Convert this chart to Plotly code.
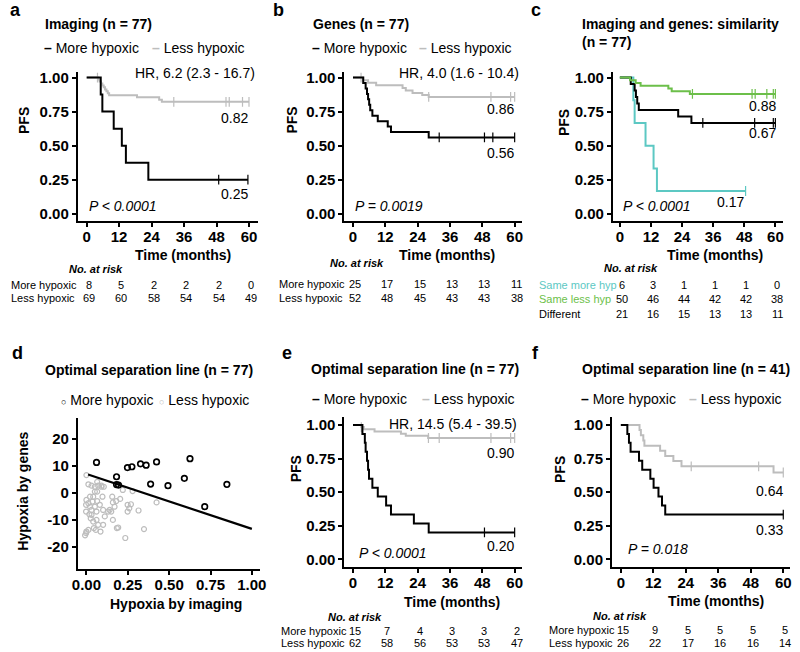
import numpy as np
import plotly.graph_objects as go

FONT = "Liberation Sans"
W, H = 800, 652
BLACK = "#000000"
GREY = "#bdbdbd"
TEAL = "#5cc8c3"
GREEN = "#6cbf4a"

TIME_TICKS = [0, 12, 24, 36, 48, 60]
PFS_TICKS = [0, 0.25, 0.5, 0.75, 1.0]
IMG_TICKS = [0, 0.25, 0.5, 0.75, 1.0]
GENE_TICKS = [-20, -10, 0, 10, 20]

# ---------------- Panel a: imaging ----------------
a_more_t = [0, 5.2, 5.8, 10.0, 13.0, 14.5, 22.8]
a_more_s = [1.0, 0.875, 0.75, 0.625, 0.5, 0.375, 0.25]
a_more_end = 59.6
a_more_cens = [48.8, 59.6]
a_less_t = [0, 4.3, 4.8, 5.3, 5.8, 6.3, 6.8, 7.3, 7.8, 8.3, 18.6, 26.8, 27.8]
a_less_s = [1, .986, .971, .957, .942, .928, .913, .899, .884, .870, .855, .838, .822]
a_less_end = 60
a_less_cens = [4.0, 32.2, 51.5, 52.7, 57.6, 60]
a_risk_more = [8, 5, 2, 2, 2, 0]
a_risk_less = [69, 60, 58, 54, 54, 49]

# ---------------- Panel b: genes ----------------
b_more_t = [0, 3.8, 4.7, 5.2, 5.6, 6.0, 6.4, 7.2, 9.2, 12.9, 14.1, 28.1]
b_more_s = [1, .96, .92, .88, .84, .80, .76, .72, .68, .64, .60, .56]
b_more_end = 60
b_more_cens = [32.0, 48.8, 51.9, 60]
b_less_t = [0, 3.8, 5.6, 8.6, 18.4, 19.6, 22.1, 25.7, 28.1]
b_less_s = [1, .981, .962, .943, .924, .905, .886, .872, .858]
b_less_end = 60
b_less_cens = [3.0, 28.1, 51.2, 58.5, 60]
b_risk_more = [25, 17, 15, 13, 13, 11]
b_risk_less = [52, 48, 45, 43, 43, 38]

# ---------------- Panel c: similarity ----------------
c_smore_t = [0, 5.2, 5.7, 9.9, 13.0, 14.3]
c_smore_s = [1, .833, .667, .5, .333, .167]
c_smore_end = 48.5
c_smore_cens = [48.5]
c_sless_t = [0, 3.9, 6.1, 8.0, 18.7, 20.0, 27.0]
c_sless_s = [1, .98, .96, .94, .92, .90, .88]
c_sless_end = 60
c_sless_cens = [28.0, 51.0, 52.2, 56.7, 59.2, 60]
c_diff_t = [0, 4.2, 5.7, 6.2, 6.7, 7.3, 22.5, 27.6]
c_diff_s = [1, .952, .905, .857, .810, .762, .714, .667]
c_diff_end = 60
c_diff_cens = [32.0, 52.0, 59.2, 60]
c_risk_smore = [6, 3, 1, 1, 1, 0]
c_risk_sless = [50, 46, 44, 42, 42, 38]
c_risk_diff = [21, 16, 15, 13, 13, 11]

# ---------------- Panel d: scatter ----------------
d_more_img = [0.061, 0.182, 0.194, 0.182, 0.248, 0.275, 0.327, 0.361, 0.424,
              0.388, 0.493, 0.626, 0.592, 0.849, 0.715]
d_more_gen = [11.4, 6.1, 3.0, 3.2, 9.5, 9.8, 10.9, 10.4, 11.6,
              3.4, 2.8, 12.8, 5.5, 3.3, -5.0]
d_less_img = [0.000, 0.012, 0.031, 0.051, 0.065, 0.071, 0.105, 0.091, 0.022, 0.041,
              0.051, 0.065, 0.000, 0.012, 0.022, -0.002, 0.031, 0.018, 0.026, 0.041,
              0.061, 0.071, 0.045, 0.057, 0.085, 0.101, 0.111, 0.101, 0.140, 0.131,
              0.150, 0.156, 0.160, 0.170, 0.180, 0.204, 0.220, 0.279, 0.249, 0.269,
              0.259, 0.249, 0.160, 0.184, 0.192, -0.002, 0.000, 0.012, -0.008, 0.235,
              0.315, 0.348, 0.424, 0.097, 0.061, 0.081, 0.037, 0.051, -0.002, 0.065,
              0.091, 0.031]
d_less_gen = [6.7, 3.3, 2.8, 2.4, 4.2, 2.8, 2.4, 2.4, -1.3, -1.3,
              0.6, -2.9, -2.5, -3.7, -5.0, -4.3, -6.2, -7.8, -9.3, -10.5,
              -9.9, -11.7, -12.9, -13.6, -14.2, -11.7, -8.6, -6.2, -6.2, -6.8,
              -6.8, -1.3, -3.4, -5.0, -2.9, -2.1, 1.2, 0.8, -4.3, -4.1,
              -5.6, -6.8, -9.9, -12.9, -12.7, -14.8, -14.2, -13.6, -15.6, -16.6,
              -6.4, -13.3, -3.4, -1.3, -6.8, -4.3, -3.1, -5.0, -6.8, 0.6,
              2.8, -8.0]
d_line_img = [0.01, 1.0]
d_line_gen = [6.9, -13.2]

# ---------------- Panel e: separation line, n=77 ----------------
e_more_t = [0, 3.5, 4.4, 4.7, 5.2, 5.6, 5.95, 7.2, 9.2, 12.3, 14.1, 22.6, 28.1]
e_more_s = [1, .933, .867, .8, .733, .667, .6, .533, .467, .4, .333, .267, .2]
e_more_end = 60
e_more_cens = [48.8, 60]
e_less_t = [0, 3.1, 4.0, 8.0, 17.8, 19.6, 27.9]
e_less_s = [1, .984, .968, .952, .935, .919, .903]
e_less_end = 60
e_less_cens = [3.1, 28.0, 32.0, 51.2, 58.5, 60]
e_risk_more = [15, 7, 4, 3, 3, 2]
e_risk_less = [62, 58, 56, 53, 53, 47]

# ---------------- Panel f: separation line, n=41 ----------------
f_more_t = [0, 2.4, 3.0, 3.6, 6.7, 7.9, 10.9, 12.1, 13.9, 15.2, 16.4]
f_more_s = [1, .933, .867, .8, .733, .667, .6, .533, .467, .4, .333]
f_more_end = 60
f_more_cens = [60]
f_less_t = [0, 6.9, 7.4, 8.3, 8.7, 14.5, 16.4, 19.4, 22.4, 56.4]
f_less_s = [1, .962, .923, .885, .846, .808, .769, .731, .692, .646]
f_less_end = 60
f_less_cens = [26.0, 50.9, 60]
f_risk_more = [15, 9, 5, 5, 5, 5]
f_risk_less = [26, 22, 17, 16, 16, 14]

fig = go.Figure()


def axn(i):
    return ("x", "y") if i == 1 else (f"x{i}", f"y{i}")


def km(i, times, surv, end, color, cens, width=2):
    xa, ya = axn(i)
    fig.add_trace(go.Scatter(x=list(times) + [end], y=list(surv) + [surv[-1]],
                             mode="lines", line=dict(color=color, width=width, shape="hv"),
                             xaxis=xa, yaxis=ya, hoverinfo="skip", showlegend=False))
    t = np.asarray(times)
    s = np.asarray(surv)
    idx = np.searchsorted(t, np.asarray(cens), side="right") - 1
    fig.add_trace(go.Scatter(x=cens, y=s[idx], mode="markers",
                             marker=dict(symbol="line-ns-open", size=7, color=color,
                                         line=dict(color=color, width=1.2)),
                             xaxis=xa, yaxis=ya, hoverinfo="skip", showlegend=False))


km(1, a_less_t, a_less_s, a_less_end, GREY, a_less_cens)
km(1, a_more_t, a_more_s, a_more_end, BLACK, a_more_cens)
km(2, b_less_t, b_less_s, b_less_end, GREY, b_less_cens)
km(2, b_more_t, b_more_s, b_more_end, BLACK, b_more_cens)
km(3, c_smore_t, c_smore_s, c_smore_end, TEAL, c_smore_cens)
km(3, c_diff_t, c_diff_s, c_diff_end, BLACK, c_diff_cens)
km(3, c_sless_t, c_sless_s, c_sless_end, GREEN, c_sless_cens)
km(5, e_less_t, e_less_s, e_less_end, GREY, e_less_cens)
km(5, e_more_t, e_more_s, e_more_end, BLACK, e_more_cens)
km(6, f_less_t, f_less_s, f_less_end, GREY, f_less_cens)
km(6, f_more_t, f_more_s, f_more_end, BLACK, f_more_cens)

# scatter panel d
fig.add_trace(go.Scatter(x=d_less_img, y=d_less_gen, mode="markers",
                         marker=dict(symbol="circle-open", size=5, color=GREY,
                                     line=dict(color=GREY, width=1.2)),
                         xaxis="x4", yaxis="y4", hoverinfo="skip", showlegend=False))
fig.add_trace(go.Scatter(x=d_more_img, y=d_more_gen, mode="markers",
                         marker=dict(symbol="circle-open", size=5.5, color=BLACK,
                                     line=dict(color=BLACK, width=1.7)),
                         xaxis="x4", yaxis="y4", hoverinfo="skip", showlegend=False))
fig.add_trace(go.Scatter(x=d_line_img, y=d_line_gen, mode="lines",
                         line=dict(color=BLACK, width=2.2),
                         xaxis="x4", yaxis="y4", hoverinfo="skip", showlegend=False))

# ---------------- axes layout ----------------
panels = {
    1: dict(xpx=(73, 256), ypx=(69, 219), xr=(-3.27, 63.27), yr=(-0.051, 1.044)),
    2: dict(xpx=(344, 525), ypx=(69, 219), xr=(-3.18, 62.9), yr=(-0.051, 1.044)),
    3: dict(xpx=(617, 790), ypx=(69, 219), xr=(-2.66, 63.0), yr=(-0.051, 1.044)),
    4: dict(xpx=(73, 258), ypx=(418, 569), xr=(-0.052, 1.048), yr=(-27.9, 27.7)),
    5: dict(xpx=(344, 525), ypx=(417, 567), xr=(-3.18, 62.9), yr=(-0.054, 1.056)),
    6: dict(xpx=(616, 797), ypx=(417, 567), xr=(-3.27, 62.5), yr=(-0.054, 1.056)),
}

tickfont = dict(family=FONT, size=15, color=BLACK, weight="bold")
common = dict(showline=True, linewidth=2, linecolor=BLACK, ticks="outside", ticklen=4,
              tickwidth=1.5, tickcolor=BLACK, showgrid=False, zeroline=False,
              tickfont=tickfont, fixedrange=True)

lay = {}
for i, p in panels.items():
    sfx = "" if i == 1 else str(i)
    if i == 4:
        xt, xtt = IMG_TICKS, [f"{v:.2f}" for v in IMG_TICKS]
        yt, ytt = GENE_TICKS, [str(v) for v in GENE_TICKS]
    else:
        xt, xtt = TIME_TICKS, [str(v) for v in TIME_TICKS]
        yt, ytt = PFS_TICKS, [f"{v:.2f}" for v in PFS_TICKS]
    lay["xaxis" + sfx] = dict(domain=[p["xpx"][0] / W, p["xpx"][1] / W], range=list(p["xr"]),
                              anchor="y" + sfx, tickvals=xt, ticktext=xtt,
                              ticklabelstandoff=-3, **common)
    lay["yaxis" + sfx] = dict(domain=[1 - p["ypx"][1] / H, 1 - p["ypx"][0] / H], range=list(p["yr"]),
                              anchor="x" + sfx, tickvals=yt, ticktext=ytt, **common)

anns = []


def A(text, x, y, xanchor="left", yanchor="middle", size=14, color=BLACK, xref="paper",
      yref="paper", angle=0):
    if xref == "paper":
        x = x / W
    if yref == "paper":
        y = 1 - y / H
    anns.append(dict(text=text, x=x, y=y, xref=xref, yref=yref, xanchor=xanchor,
                     yanchor=yanchor, showarrow=False, textangle=angle,
                     font=dict(family=FONT, size=size, color=color)))


# panel letters
A("<b>a</b>", 2, 7.5, size=18)
A("<b>b</b>", 269, 7.5, size=18)
A("<b>c</b>", 532, 7.5, size=18)
A("<b>d</b>", 4, 352.5, size=18)
A("<b>e</b>", 279, 352.5, size=18)
A("<b>f</b>", 533, 352.5, size=18)

# titles
A("<b>Imaging (n = 77)</b>", 38, 21.5)
A("<b>Genes (n = 77)</b>", 310, 21.5)
A("<b>Imaging and genes: similarity</b>", 583, 21.5)
A("<b>(n = 77)</b>", 583, 39.5)
A("<b>Optimal separation line (n = 77)</b>", 38, 369)
A("<b>Optimal separation line (n = 77)</b>", 308, 368)
A("<b>Optimal separation line (n = 41)</b>", 583, 368)


# legends
def dash(c):
    return f"<span style='color:{c}'><b>–</b></span>"


def circ(c):
    return f"<span style='color:{c};font-size:9px'>○</span>"


A(dash(BLACK) + " More hypoxic", 37, 45)
A(dash(GREY) + " Less hypoxic", 146, 45)
A(dash(BLACK) + " More hypoxic", 309, 45)
A(dash(GREY) + " Less hypoxic", 418, 45)
A(circ(BLACK) + " More hypoxic", 54, 399)
A(circ(GREY) + " Less hypoxic", 153, 399)
A(dash(BLACK) + " More hypoxic", 309, 398)
A(dash(GREY) + " Less hypoxic", 421, 398)
A(dash(BLACK) + " More hypoxic", 582, 398)
A(dash(GREY) + " Less hypoxic", 692, 398)

# axis titles
for (txt, x, y) in [("Time (months)", 180, 254), ("Time (months)", 448, 254),
                    ("Time (months)", 721, 254), ("Hypoxia by imaging", 173, 605),
                    ("Time (months)", 453, 603), ("Time (months)", 722, 602)]:
    A(f"<b>{txt}</b>", x, y, xanchor="center")
for (txt, x, y) in [("PFS", 19, 118), ("PFS", 291, 118), ("PFS", 567, 120),
                    ("Hypoxia by genes", 17, 491), ("PFS", 295, 469), ("PFS", 563, 469)]:
    A(f"<b>{txt}</b>", x, y, xanchor="center", angle=-90)


# in-plot texts (data coordinates)
def D(i, text, x, y, xanchor):
    xa, ya = axn(i)
    A(text, x, y, xanchor=xanchor, xref=xa, yref=ya)


D(1, "HR, 6.2 (2.3 - 16.7)", 62.9, 1.03, "right")
D(1, "0.82", 60.5, 0.70, "right")
D(1, "0.25", 60.5, 0.146, "right")
D(1, "<i>P < 0.0001</i>", 0.3, 0.06, "left")
D(2, "HR, 4.0 (1.6 - 10.4)", 62.4, 1.03, "right")
D(2, "0.86", 60.5, 0.77, "right")
D(2, "0.56", 60.5, 0.445, "right")
D(2, "<i>P = 0.0019</i>", 0.0, 0.06, "left")
D(3, "0.88", 61.2, 0.79, "right")
D(3, "0.67", 61.2, 0.59, "right")
D(3, "0.17", 48.8, 0.088, "right")
D(3, "<i>P < 0.0001</i>", 0.3, 0.06, "left")
D(5, "HR, 14.5 (5.4 - 39.5)", 61.5, 1.01, "right")
D(5, "0.90", 60.5, 0.79, "right")
D(5, "0.20", 60.5, 0.096, "right")
D(5, "<i>P < 0.0001</i>", 1.5, 0.05, "left")
D(6, "0.64", 60.5, 0.51, "right")
D(6, "0.33", 60.5, 0.22, "right")
D(6, "<i>P = 0.018</i>", 1.8, 0.074, "left")


# numbers at risk
def risk(i, head_x, head_y, label_x, rows):
    xa, _ = axn(i)
    A("<b><i>No. at risk</i></b>", head_x, head_y, xanchor="center", size=11)
    for (lab, col, vals, y) in rows:
        A(lab, label_x, y, xanchor="left", size=11, color=col)
        for t, v in zip(TIME_TICKS, vals):
            anns.append(dict(text=str(v), x=t, y=1 - y / H, xref=xa, yref="paper",
                             xanchor="center", yanchor="middle", showarrow=False,
                             xshift=2,
                             font=dict(family=FONT, size=11, color=BLACK)))


risk(1, 91, 267.5, 3, [("More hypoxic", BLACK, a_risk_more, 284),
                       ("Less hypoxic", BLACK, a_risk_less, 297)])
risk(2, 357, 262, 275, [("More hypoxic", BLACK, b_risk_more, 283),
                        ("Less hypoxic", BLACK, b_risk_less, 297)])
risk(3, 635, 267, 540, [("Same more hyp", TEAL, c_risk_smore, 284),
                        ("Same less hyp", GREEN, c_risk_sless, 298),
                        ("Different", BLACK, c_risk_diff, 312.5)])
risk(5, 355, 618, 278, [("More hypoxic", BLACK, e_risk_more, 631.5),
                        ("Less hypoxic", BLACK, e_risk_less, 644)])
risk(6, 624, 617, 550, [("More hypoxic", BLACK, f_risk_more, 631),
                        ("Less hypoxic", BLACK, f_risk_less, 644)])

fig.update_layout(width=W, height=H, margin=dict(l=0, r=0, t=0, b=0),
                  paper_bgcolor="white", plot_bgcolor="white", showlegend=False,
                  font=dict(family=FONT, color=BLACK), annotations=anns, **lay)

fig.write_html("out.html", config={"displayModeBar": False},
               post_script="document.body.style.margin='0';document.body.style.overflow='hidden';")
